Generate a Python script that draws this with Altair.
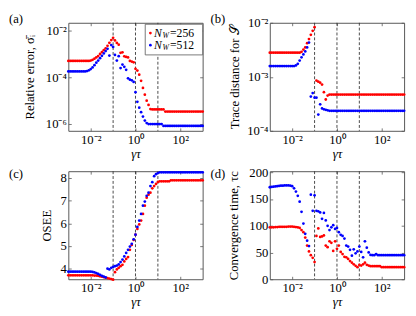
import altair as alt
import pandas as pd

# gamma*tau sweep (log10 exponents, 12 points per decade)
GT_EXP = [
    -3.000, -2.917, -2.833, -2.750, -2.667, -2.583, -2.500, -2.417, -2.333, -2.250, -2.167, -2.083,
    -2.000, -1.917, -1.833, -1.750, -1.667, -1.583, -1.500, -1.417, -1.333, -1.250, -1.167, -1.083,
    -1.000, -0.917, -0.833, -0.750, -0.667, -0.583, -0.500, -0.417, -0.333, -0.250, -0.167, -0.083,
    0.000, 0.083, 0.167, 0.250, 0.333, 0.417, 0.500, 0.583, 0.667, 0.750, 0.833, 0.917,
    1.000, 1.083, 1.167, 1.250, 1.333, 1.417, 1.500, 1.583, 1.667, 1.750, 1.833, 1.917,
    2.000, 2.083, 2.167, 2.250, 2.333, 2.417, 2.500, 2.583, 2.667, 2.750, 2.833, 2.917, 3.000,
]
GT = [10 ** e for e in GT_EXP]

# (a) relative error
A_RED = (
    [5.0e-4] * 12
    + [5.2e-4, 5.6e-4, 6.3e-4, 7.1e-4, 8.1e-4, 1.0e-3, 1.2e-3, 1.45e-3, 1.74e-3, 2.24e-3, 3.0e-3, 3.9e-3]
    + [4.9e-3, 3.8e-3, 2.95e-3, 2.5e-3, 1.12e-3, 1.17e-3, 7.9e-4, 7.4e-4, 7.1e-4, 5.0e-4, 4.7e-4, 4.4e-4]
    + [2.3e-4, 1.95e-4, 1.3e-4, 7.1e-5, 3.5e-5, 1.8e-5, 1.0e-5, 6.6e-6, 4.4e-6, 4.2e-6, 4.2e-6, 4.2e-6]
    + [4.2e-6] * 4 + [3.4e-6] * 8
    + [3.4e-6] * 13
)
A_BLUE = (
    [1.78e-4] * 10 + [1.86e-4, 2.0e-4]
    + [2.24e-4, 2.63e-4, 3.3e-4, 4.2e-4, 5.2e-4, 6.6e-4, 8.3e-4, 1.05e-3, 1.32e-3, 1.66e-3, 8.5e-4, 2.4e-3]
    + [2.0e-3, 9.1e-4, 5.2e-4, 8.0e-4, 2.5e-4, 3.5e-4, 2.8e-4, 2.1e-4, 9.1e-5, 7.9e-5, 7.4e-5, 6.3e-5]
    + [2.3e-5, 8.9e-6, 5.0e-6, 3.2e-6, 2.1e-6, 1.4e-6, 1.1e-6, 1.0e-6, 1.0e-6, 1.0e-6, 1.0e-6, 1.0e-6]
    + [1.0e-6] * 3 + [8.3e-7] * 9
    + [8.3e-7] * 13
)

# (b) trace distance
B_RED = (
    [2.8e-3] * 12
    + [2.8e-3] * 5 + [2.9e-3, 3.2e-3, 3.5e-3, 4.2e-3, 5.0e-3, 6.0e-3, 7.1e-3]
    + [8.3e-3, 8.5e-4, 8.1e-4, 7.8e-4, 7.2e-4, 5.2e-4, 3.8e-4, 4.5e-4, 4.7e-4, 4.7e-4, 4.7e-4, 4.7e-4]
    + [4.7e-4] * 37
)
B_BLUE = (
    [1.58e-3] * 12
    + [1.58e-3, 1.58e-3, 1.62e-3, 1.74e-3, 2.0e-3, 2.3e-3, 2.6e-3, 2.95e-3, 3.5e-3, 4.3e-3, 4.3e-4, 5.0e-4]
    + [4.1e-4, 4.1e-4, 2.0e-4, 3.1e-4, 2.6e-4, 2.5e-4, 2.45e-4, 2.4e-4, 2.35e-4, 2.35e-4, 2.35e-4, 2.35e-4]
    + [2.35e-4] * 37
)

# (c) OSEE
C_RED = (
    [3.72] * 12
    + [3.72, 3.72, 3.71, 3.71, 3.70, 3.68, 3.66, 3.64, 3.62, 3.60, 3.58, 3.56]
    + [3.53, 3.86, 3.98, 4.05, 4.12, 4.18, 4.33, 4.44, 4.52, 4.84, 5.05, 5.27]
    + [5.50, 5.75, 5.95, 6.12, 6.41, 6.77, 7.12, 7.25, 7.34, 7.53, 7.63, 7.72]
    + [7.81] + [7.84] * 6 + [7.88] * 5
    + [7.88] * 13
)
C_BLUE = (
    [3.88] * 12
    + [3.88, 3.87, 3.85, 3.82, 3.78, 3.74, 3.70, 3.66, 3.63, 4.01, 3.98, 4.05]
    + [4.09, 4.12, 4.15, 4.20, 4.30, 4.41, 4.55, 4.70, 4.84, 4.98, 5.10, 5.30]
    + [5.50, 5.84, 6.12, 6.41, 6.77, 6.95, 7.20, 7.34, 7.63, 7.80, 8.06, 8.15]
    + [8.20] + [8.23] * 11
    + [8.23] * 13
)

# (d) convergence time
D_RED = (
    [97, 97, 97, 97.5, 97.5, 98, 98, 98, 98, 98, 98.5, 98.5]
    + [98.5, 98, 97.5, 97, 96, 92, 88, 78, 63, 52, 45, 40]
    + [32, 81, 95, 79, 80, 82, 63, 60, 71, 68, 53, 71]
    + [57, 63, 51, 47, 42, 41, 38, 34, 31, 28, 25, 22.5]
    + [26.7, 25.5, 28, 31, 27, 25.5, 24.5, 24.5, 24.5, 24.5, 24.5, 24.5]
    + [22.5] * 13
)
D_BLUE = (
    [172, 172.5, 173, 173.5, 174, 174.5, 175, 175, 175.5, 175.5, 175.5, 175]
    + [174, 170, 164, 156, 145, 126, 104, 85, 72, 62, 158, 128]
    + [157, 128, 127, 125, 113, 124, 110, 100, 92, 97, 101, 94]
    + [96, 88, 83, 81, 76, 63, 61, 55, 44, 56, 48.5, 52]
    + [61, 51, 41, 71, 59, 50, 45.5, 45, 45, 47, 45, 45]
    + [45] * 13
)

SERIES = ["256", "512"]
COLORS = ["#ff0000", "#0000ff"]
DASH_AT = [0.1, 1.0, 10.0]

FONT = "Liberation Serif"
FS = 13
LFS = 12
W, H = 138, 111
FRAME = "#555555"
XDOM = [1e-3, 1e3]
XVALS = [1e-2, 1.0, 1e2]
XLABELS = "datum.value < 0.1 ? '10⁻²' : (datum.value < 10 ? '10⁰' : '10²')"


def make_df(red, blue):
    return pd.DataFrame({
        "gt": GT + GT,
        "val": list(red) + list(blue),
        "series": [SERIES[0]] * len(red) + [SERIES[1]] * len(blue),
    })


def panel(red, blue, yscale, yvals, ylabels, ytitle, tag, tag_y, title_pad, legend=False):
    df = make_df(red, blue)
    xs = alt.Scale(type="log", domain=XDOM, nice=False)
    yaxis_kw = dict(values=yvals, title=ytitle, orient="left", offset=-3, tickSize=3,
                    domain=False, grid=False, labelPadding=2, titlePadding=title_pad)
    if ylabels:
        yaxis_kw["labelExpr"] = ylabels
    pts = alt.Chart(df).mark_circle(size=8, opacity=1).encode(
        x=alt.X("gt:Q", scale=xs, axis=alt.Axis(
            values=XVALS, labelExpr=XLABELS, title="γτ", orient="bottom", offset=-3,
            tickSize=3, domain=False, grid=False, labelPadding=3, titlePadding=1,
            titleFontStyle="italic")),
        y=alt.Y("val:Q", scale=yscale, axis=alt.Axis(**yaxis_kw)),
        color=alt.Color("series:N", scale=alt.Scale(domain=SERIES, range=COLORS), legend=None),
    )
    mirror = alt.Chart(df).mark_circle(opacity=0).encode(
        x=alt.X("gt:Q", scale=xs, axis=alt.Axis(
            values=XVALS, orient="top", labels=False, title=None, offset=-3, tickSize=3,
            domain=False, grid=False)),
        y=alt.Y("val:Q", scale=yscale, axis=alt.Axis(
            values=yvals, orient="right", labels=False, title=None, offset=-3, tickSize=3,
            domain=False, grid=False)),
    )
    rules = alt.Chart(pd.DataFrame({"gt": DASH_AT})).mark_rule(
        strokeDash=[3, 2], color="#333333", strokeWidth=0.9
    ).encode(x=alt.X("gt:Q", scale=xs, axis=None))
    tagc = alt.Chart(pd.DataFrame({"t": [tag]})).mark_text(
        font=FONT, fontSize=FS, align="left", baseline="middle", color="black"
    ).encode(text="t:N", x=alt.value(-61), y=alt.value(tag_y))
    layers = [rules, pts, mirror, tagc]
    if legend:
        box = alt.Chart(pd.DataFrame({"k": [0]})).mark_rect(
            fill="white", stroke=FRAME, strokeWidth=0.8
        ).encode(x=alt.value(79), x2=alt.value(138), y=alt.value(1.5), y2=alt.value(33))
        layers.append(box)
        for i, (s, c) in enumerate(zip(SERIES, COLORS)):
            yy = 10.5 + 12.5 * i
            dot = alt.Chart(pd.DataFrame({"k": [0]})).mark_circle(size=8, color=c, opacity=1).encode(
                x=alt.value(84.3), y=alt.value(yy))
            n = alt.Chart(pd.DataFrame({"t": ["N"]})).mark_text(
                font=FONT, fontSize=LFS, fontStyle="italic", align="left", baseline="middle", color="black"
            ).encode(text="t:N", x=alt.value(88.0), y=alt.value(yy))
            w = alt.Chart(pd.DataFrame({"t": ["W"]})).mark_text(
                font=FONT, fontSize=8, fontStyle="italic", align="left", baseline="middle", color="black"
            ).encode(text="t:N", x=alt.value(96.8), y=alt.value(yy + 2.8))
            v = alt.Chart(pd.DataFrame({"t": ["=" + s]})).mark_text(
                font=FONT, fontSize=LFS, align="left", baseline="middle", color="black"
            ).encode(text="t:N", x=alt.value(104.5), y=alt.value(yy))
            layers += [dot, n, w, v]
    return alt.layer(*layers).resolve_axis(x="independent", y="independent").properties(width=W, height=H)


pa = panel(A_RED, A_BLUE,
           alt.Scale(type="log", domain=[10 ** -6.29, 10 ** -1.667], nice=False),
           [1e-6, 1e-4, 1e-2],
           "datum.value < 1e-5 ? '10⁻⁶' : (datum.value < 1e-3 ? '10⁻⁴' : '10⁻²')",
           "Relative error, σ̄ᵢ", "(a)", -4, 9, legend=True)
pb = panel(B_RED, B_BLUE,
           alt.Scale(type="log", domain=[1e-4, 1e-2], nice=False),
           [1e-4, 1e-3, 1e-2],
           "datum.value < 5e-4 ? '10⁻⁴' : (datum.value < 5e-3 ? '10⁻³' : '10⁻²')",
           "Trace distance for 𝒮", "(b)", -4, 6)
pc = panel(C_RED, C_BLUE,
           alt.Scale(type="linear", domain=[3.55, 8.28], nice=False, zero=False),
           [4, 5, 6, 7, 8], None, "OSEE", "(c)", 2.5, 7)
pd_ = panel(D_RED, D_BLUE,
            alt.Scale(type="linear", domain=[0, 202], nice=False),
            [0, 50, 100, 150, 200], None, "Convergence time, τc", "(d)", 2.5, 9)

chart = alt.concat(pa, pb, pc, pd_, columns=2, spacing={"row": 41.5, "column": 69},
                   bounds="flush").properties(
    padding={"left": 0, "top": 0, "right": 0, "bottom": 0}
).configure_view(stroke=FRAME, strokeWidth=1).configure_axis(
    labelFont=FONT, labelFontSize=FS, labelColor="black", tickColor=FRAME, tickWidth=0.8,
    titleFont=FONT, titleFontSize=FS, titleFontWeight="normal", titleColor="black"
)

chart.save("out.html", embed_options={"renderer": "svg", "actions": False})
